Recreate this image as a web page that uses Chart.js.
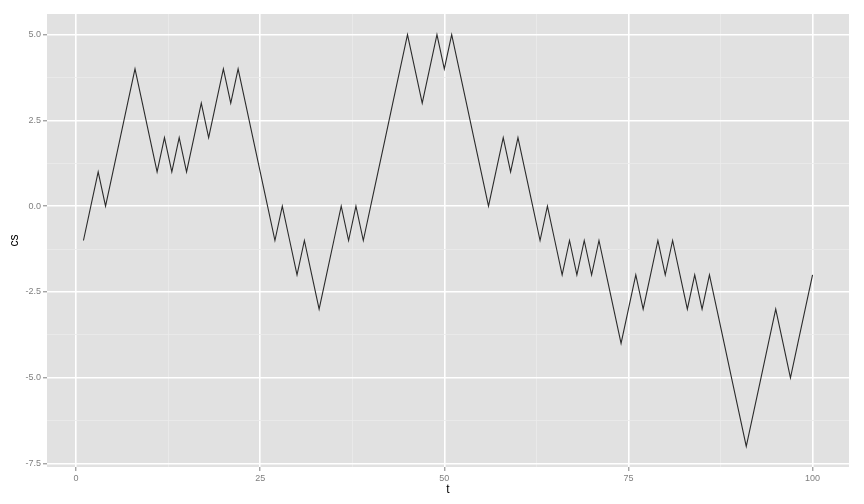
<!DOCTYPE html>
<html>
<head>
<meta charset="utf-8">
<script src="https://cdn.jsdelivr.net/npm/chart.js@4"></script>
<style>
  html, body { margin: 0; padding: 0; background: #fff; }
  #wrap { width: 864px; height: 504px; }
</style>
</head>
<body>
<div id="wrap"><canvas id="chart" width="864" height="504"></canvas></div>
<script>
// random walk: step index and cumulative sum
const t = [1,2,3,4,5,6,7,8,9,10,11,12,13,14,15,16,17,18,19,20,
  21,22,23,24,25,26,27,28,29,30,31,32,33,34,35,36,37,38,39,40,
  41,42,43,44,45,46,47,48,49,50,51,52,53,54,55,56,57,58,59,60,
  61,62,63,64,65,66,67,68,69,70,71,72,73,74,75,76,77,78,79,80,
  81,82,83,84,85,86,87,88,89,90,91,92,93,94,95,96,97,98,99,100]
const cs = [-1,0,1,0,1,2,3,4,3,2,
  1,2,1,2,1,2,3,2,3,4,
  3,4,3,2,1,0,-1,0,-1,-2,
  -1,-2,-3,-2,-1,0,-1,0,-1,0,
  1,2,3,4,5,4,3,4,5,4,
  5,4,3,2,1,0,1,2,1,2,
  1,0,-1,0,-1,-2,-1,-2,-1,-2,
  -1,-2,-3,-4,-3,-2,-3,-2,-1,-2,
  -1,-2,-3,-2,-3,-2,-3,-4,-5,-6,
  -7,-6,-5,-4,-3,-4,-5,-4,-3,-2]

const xTicks = [0, 25, 50, 75, 100]
const xMinor = [12.5, 37.5, 62.5, 87.5]
const yTicks = [-7.5, -5, -2.5, 0, 2.5, 5]
const yMinor = [-6.25, -3.75, -1.25, 1.25, 3.75]

const FONT = "'Liberation Sans', Arial, sans-serif"

const panelBg = {
  id: 'panelBg',
  beforeDraw(chart) {
    const a = chart.chartArea, c = chart.ctx
    c.save()
    c.fillStyle = '#E1E1E1'
    c.fillRect(a.left, a.top, a.right - a.left, a.bottom - a.top)
    c.restore()
  }
}

function buildTicks(major, minor) {
  return scale => {
    scale.ticks = major.concat(minor).sort((p, q) => p - q).map(v => ({ value: v, major: major.includes(v) }))
  }
}

const isMajor = (list, v) => list.includes(v)

new Chart(document.querySelector('#chart'), {
  type: 'line',
  data: {
    datasets: [{
      data: t.map((v, i) => ({ x: v, y: cs[i] })),
      borderColor: '#2b2b2b',
      borderWidth: 1.1,
      pointRadius: 0,
      tension: 0,
      fill: false
    }]
  },
  options: {
    responsive: false,
    animation: false,
    layout: { padding: { top: 14, right: 15, left: 0, bottom: 0 } },
    plugins: { legend: { display: false }, tooltip: { enabled: false } },
    scales: {
      x: {
        type: 'linear',
        min: -3.95,
        max: 104.95,
        afterBuildTicks: buildTicks(xTicks, xMinor),
        afterFit: s => { s.height = 37 },
        border: { display: false },
        grid: {
          color: c => isMajor(xTicks, c.tick.value) ? '#ffffff' : '#EBEBEB',
          lineWidth: c => isMajor(xTicks, c.tick.value) ? 1.6 : 0.8,
          tickColor: c => isMajor(xTicks, c.tick.value) ? '#7f7f7f' : 'rgba(0,0,0,0)',
          tickLength: 4,
          tickWidth: 1
        },
        ticks: {
          autoSkip: false,
          maxRotation: 0,
          padding: 2,
          color: '#7f7f7f',
          font: { family: FONT, size: 9 },
          callback: v => isMajor(xTicks, v) ? String(v) : ''
        },
        title: {
          display: true,
          text: 't',
          color: '#000',
          font: { family: FONT, size: 12 },
          padding: { top: 0, bottom: 7 }
        }
      },
      y: {
        type: 'linear',
        min: -7.6,
        max: 5.6,
        afterBuildTicks: buildTicks(yTicks, yMinor),
        afterFit: s => { s.width = 47 },
        border: { display: false },
        grid: {
          color: c => isMajor(yTicks, c.tick.value) ? '#ffffff' : '#EBEBEB',
          lineWidth: c => isMajor(yTicks, c.tick.value) ? 1.6 : 0.8,
          tickColor: c => isMajor(yTicks, c.tick.value) ? '#7f7f7f' : 'rgba(0,0,0,0)',
          tickLength: 4,
          tickWidth: 1
        },
        ticks: {
          autoSkip: false,
          padding: 2,
          color: '#7f7f7f',
          font: { family: FONT, size: 9 },
          callback: v => isMajor(yTicks, v) ? v.toFixed(1) : ''
        },
        title: {
          display: true,
          text: 'cs',
          color: '#000',
          font: { family: FONT, size: 12 },
          padding: { top: 7, bottom: 0 }
        }
      }
    }
  },
  plugins: [panelBg]
})
</script>
</body>
</html>
